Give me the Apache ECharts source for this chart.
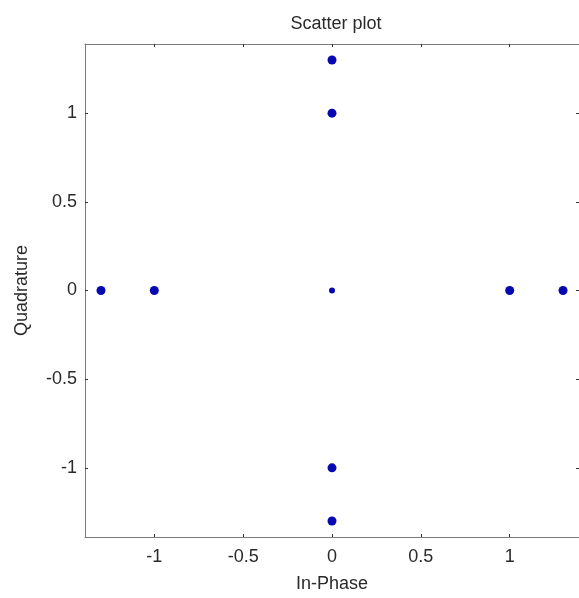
<!DOCTYPE html>
<html><head><meta charset="utf-8">
<script src="https://cdn.jsdelivr.net/npm/echarts@6/dist/echarts.min.js"></script>
<style>html,body{margin:0;padding:0;background:#fff}#c{width:579px;height:598px}</style>
</head><body><div id="c"></div>
<script>
const titleText = 'Scatter plot';
const xName = 'In-Phase';
const yName = 'Quadrature';
const inPhase    = [0, 0, -1.3, -1, 0, 1, 1.3, 0, 0];
const quadrature = [1.3, 1, 0, 0, 0, 0, 0, -1, -1.3];
const tickValues = [-1, -0.5, 0, 0.5, 1];
const axisMin = -1.39, axisMax = 1.39;

const pts = inPhase.map((x, i) => [x, quadrature[i]]);
const chart = echarts.init(document.getElementById('c'), null, {renderer: 'canvas'});
const font = 'Liberation Sans, Arial, sans-serif';
const lineCol = '#7a7a7a';
const txtCol = '#2a2a2a';
function axisBase(pos, showLabel) {
  return {
    type: 'value', position: pos, min: axisMin, max: axisMax,
    axisLine: {show: true, onZero: false, lineStyle: {color: lineCol, width: 1}},
    axisTick: {show: true, inside: true, length: 3, customValues: tickValues, lineStyle: {color: '#333'}},
    axisLabel: {show: showLabel, customValues: tickValues, color: txtCol, fontFamily: font, fontSize: 18, margin: 8},
    splitLine: {show: false}
  };
}
const xa = axisBase('bottom', true);
xa.axisLabel.margin = 11;
xa.name = xName; xa.nameLocation = 'middle'; xa.nameGap = 38;
xa.nameTextStyle = {color: txtCol, fontFamily: font, fontSize: 18};
const xa2 = axisBase('top', false);
const ya = axisBase('left', true);
ya.name = yName; ya.nameLocation = 'middle'; ya.nameGap = 54;
ya.nameTextStyle = {color: txtCol, fontFamily: font, fontSize: 18};
const ya2 = axisBase('right', false);

chart.setOption({
  animation: false,
  backgroundColor: '#fff',
  title: {text: titleText, left: 331, textAlign: 'center', top: 10,
    textStyle: {color: txtCol, fontFamily: font, fontSize: 18, fontWeight: 'normal'}},
  grid: {left: 85, top: 44, width: 496, height: 497, containLabel: false},
  xAxis: [xa, xa2],
  yAxis: [ya, ya2],
  series: [{
    type: 'scatter', xAxisIndex: 0, yAxisIndex: 0,
    data: pts,
    symbol: 'circle',
    symbolSize: (v) => (v[0] === 0 && v[1] === 0) ? 6 : 9,
    itemStyle: {color: '#0808b0', opacity: 1}
  }]
});
</script></body></html>
